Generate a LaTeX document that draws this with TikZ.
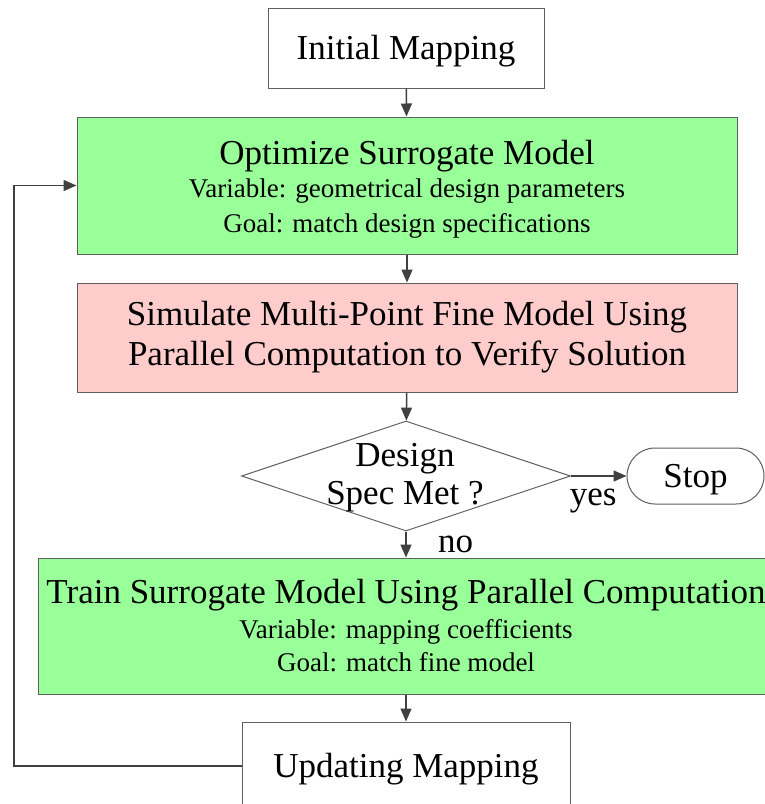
\documentclass[tikz,border=0pt]{standalone}
\usepackage{fontspec}
\setmainfont{Liberation Serif}
\usetikzlibrary{arrows.meta,shapes.geometric}
\definecolor{boxgreen}{HTML}{99FF99}
\definecolor{boxpink}{HTML}{FFCCCC}
\definecolor{edgegray}{HTML}{606060}
\definecolor{arrowgray}{HTML}{404040}
\tikzset{
  flowbox/.style={draw=edgegray,line width=1pt,rectangle,align=center,inner sep=0pt,
    font=\fontsize{35}{40}\selectfont},
  onebox/.style={flowbox,text height=30pt,text depth=8pt},
  greenbox/.style={flowbox,fill=boxgreen},
  pinkbox/.style={flowbox,fill=boxpink},
  decision/.style={draw=edgegray,line width=1pt,diamond,inner sep=0pt,
    minimum width=329pt,minimum height=110pt},
  endbox/.style={onebox,rounded corners=28pt},
  flowarrow/.style={-{Triangle[length=13pt,width=11pt]},draw=arrowgray,line width=1.5pt},
  flowlabel/.style={font=\fontsize{35}{40}\selectfont}
}
\newcommand{\smalltext}{\fontsize{27}{33}\selectfont}
\begin{document}
\begin{tikzpicture}[x=1pt,y=-1pt]
  \clip (0,0) rectangle (765,804);
  \fill[white] (0,0) rectangle (765,804);
  \node[onebox,minimum width=276pt,minimum height=80pt] (init) at (406,48) {Initial Mapping};
  \node[greenbox,minimum width=660pt,minimum height=137pt] (opt) at (407,185.5)
    {\rule{0pt}{31pt}Optimize Surrogate Model\\[-7pt]
     {\smalltext Variable: geometrical design parameters}\\[-5pt]
     {\smalltext Goal: match design specifications}};
  \node[pinkbox,minimum width=660pt,minimum height=109pt] (sim) at (407,337.5)
    {Simulate Multi-Point Fine Model Using\\Parallel Computation to Verify Solution};
  \node[decision] (dec) at (406,476) {};
  \node[flowlabel,align=center] (dectext) at (405,478) {Design\\[-2pt]Spec Met ?};
  \node[endbox,minimum width=137pt,minimum height=56pt] (stop) at (695.5,476) {Stop};
  \node[greenbox,minimum width=736pt,minimum height=136pt] (train) at (406,626)
    {Train Surrogate Model Using Parallel Computation\\[-5pt]
     {\smalltext Variable: mapping coefficients}\\[-7pt]
     {\smalltext Goal: match fine model}};
  \node[onebox,minimum width=328pt,minimum height=88pt] (upd) at (406,766) {Updating Mapping};
  \coordinate (loop) at (14,766);
  % connectors
  \draw[flowarrow] (init) -- (opt);
  \draw[flowarrow] (opt) -- (sim);
  \draw[flowarrow] (sim) -- (dec);
  \draw[flowarrow] (dec.east) -- (stop.west) node[flowlabel,below,pos=0.4,yshift=-9pt] {yes};
  \draw[flowarrow] (dec.south) -- (train.north) node[flowlabel,right,midway,xshift=28pt] {no};
  \draw[flowarrow] (train) -- (upd);
  \draw[flowarrow] (upd.west) -- (loop) |- (opt.west);
\end{tikzpicture}
\end{document}
